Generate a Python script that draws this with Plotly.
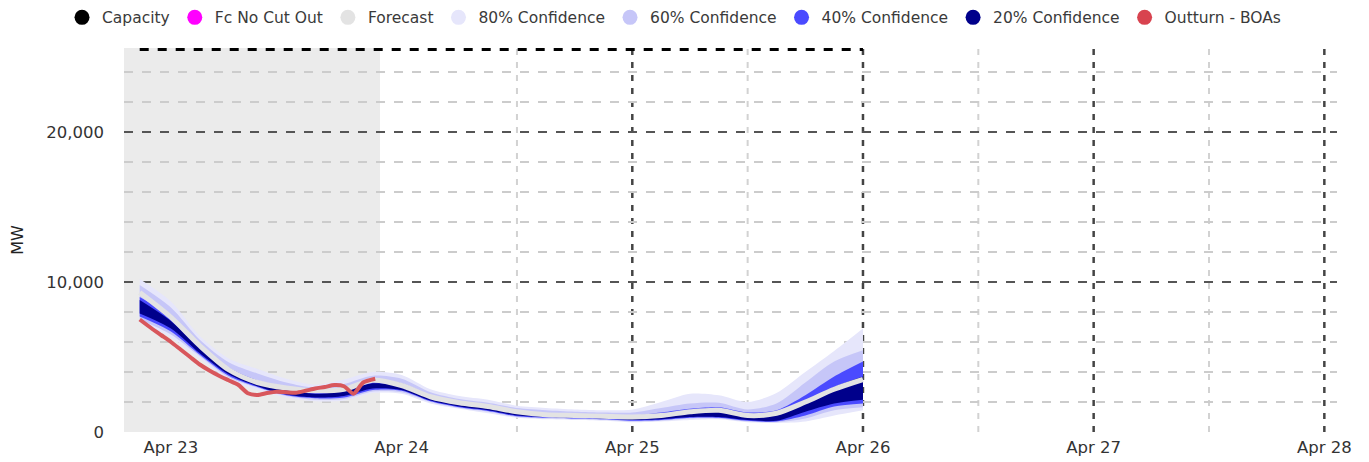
import plotly.graph_objects as go

# ---------------- data ----------------
fc_time = ["2024-04-22 20:45", "2024-04-23 00:00", "2024-04-23 03:00", "2024-04-23 06:00",
           "2024-04-23 09:00", "2024-04-23 12:00", "2024-04-23 15:00", "2024-04-23 18:00",
           "2024-04-23 21:00", "2024-04-24 00:00", "2024-04-24 03:00", "2024-04-24 06:00",
           "2024-04-24 09:00", "2024-04-24 12:00", "2024-04-24 15:00", "2024-04-24 18:00",
           "2024-04-24 21:00", "2024-04-25 00:00", "2024-04-25 03:00", "2024-04-25 06:00",
           "2024-04-25 09:00", "2024-04-25 12:00", "2024-04-25 15:00", "2024-04-25 18:00",
           "2024-04-25 21:00", "2024-04-26 00:00"]
forecast = [9300, 7650, 5750, 4150, 3300, 2930, 2750, 2850, 3450, 3100, 2350, 1950, 1700,
            1350, 1150, 1100, 1050, 1000, 1100, 1350, 1450, 1100, 1250, 2000, 2850, 3500]

c80_lo = [7300, 6300, 4900, 3500, 2800, 2300, 2050, 2100, 2600, 2550, 1900, 1550, 1250,
          950, 850, 800, 750, 650, 700, 800, 850, 650, 600, 700, 1100, 1450]
c80_hi = [10200, 8700, 6400, 4900, 4200, 3550, 3150, 3500, 4000, 3800, 2850, 2400, 2150,
          1750, 1600, 1500, 1450, 1500, 2000, 2550, 2450, 2000, 2600, 4000, 5400, 6900]
c60_lo = [7500, 6500, 5050, 3650, 2950, 2400, 2150, 2200, 2700, 2650, 2000, 1600, 1350,
          1000, 900, 850, 800, 700, 750, 900, 900, 700, 650, 900, 1450, 1650]
c60_hi = [9800, 8300, 6150, 4650, 3900, 3300, 2950, 3200, 3750, 3550, 2650, 2200, 1950,
          1600, 1450, 1350, 1300, 1300, 1600, 1900, 1950, 1500, 1900, 3300, 4700, 5450]
c40_lo = [7700, 6700, 5150, 3750, 3000, 2450, 2250, 2300, 2800, 2750, 2050, 1650, 1400,
          1050, 950, 900, 850, 750, 800, 950, 950, 750, 700, 1100, 1700, 1900]
c40_hi = [9000, 7700, 5800, 4300, 3450, 3000, 2700, 2850, 3400, 3250, 2450, 2050, 1800,
          1400, 1250, 1200, 1150, 1100, 1300, 1550, 1650, 1300, 1450, 2450, 3700, 4700]
c20_lo = [7900, 6900, 5250, 3850, 3050, 2500, 2300, 2400, 2900, 2800, 2100, 1700, 1450,
          1100, 1000, 950, 900, 800, 850, 1000, 1000, 800, 750, 1350, 1900, 2150]
c20_hi = [8800, 7400, 5600, 4100, 3350, 2850, 2550, 2750, 3250, 3050, 2350, 1950, 1700,
          1350, 1150, 1100, 1050, 1000, 1150, 1350, 1400, 1100, 1250, 2000, 3000, 3700]

out_time = ["2024-04-22 20:45", "2024-04-22 22:00", "2024-04-22 23:00", "2024-04-23 00:00",
            "2024-04-23 01:00", "2024-04-23 02:00", "2024-04-23 03:00", "2024-04-23 04:00",
            "2024-04-23 05:00", "2024-04-23 06:00", "2024-04-23 07:00", "2024-04-23 08:00",
            "2024-04-23 09:00", "2024-04-23 10:00", "2024-04-23 11:00", "2024-04-23 12:00",
            "2024-04-23 13:00", "2024-04-23 14:00", "2024-04-23 15:00", "2024-04-23 16:00",
            "2024-04-23 17:00", "2024-04-23 18:00", "2024-04-23 19:00", "2024-04-23 20:00",
            "2024-04-23 21:15"]
outturn = [7500, 6900, 6450, 6000, 5500, 5000, 4500, 4100, 3750, 3450, 3150, 2580, 2470,
           2600, 2690, 2650, 2620, 2750, 2900, 3000, 3130, 3050, 2550, 3300, 3550]

cap_time = ["2024-04-22 20:45", "2024-04-26 00:00"]
capacity = [25500, 25500]

past_end = "2024-04-23 21:45"
x_range = ["2024-04-22 19:07", "2024-04-28 01:19"]
y_range = [0, 25600]
grid_minor_x = ["2024-04-24 12:00", "2024-04-25 12:00", "2024-04-26 12:00", "2024-04-27 12:00"]
grid_major_x = ["2024-04-25 00:00", "2024-04-26 00:00", "2024-04-27 00:00", "2024-04-28 00:00"]

legend_names = ["Capacity", "Fc No Cut Out", "Forecast", "80% Confidence", "60% Confidence",
                "40% Confidence", "20% Confidence", "Outturn - BOAs"]
legend_colors = ["#000000", "#ff00ff", "#e3e3e3", "#e6e6fb", "#c6c6f8", "#4a4aff",
                 "#00008b", "#d8434f"]

FONT = "DejaVu Sans, Verdana, sans-serif"

# ---------------- figure ----------------
fig = go.Figure()

for name, col in zip(legend_names, legend_colors):
    fig.add_trace(go.Scatter(x=[None], y=[None], mode="markers", name=name,
                             marker=dict(color=col, size=15, symbol="circle"),
                             showlegend=True, hoverinfo="skip"))

band_defs = [(c80_lo, c80_hi, "#e6e6fb"), (c60_lo, c60_hi, "#c6c6f8"),
             (c40_lo, c40_hi, "#4a4aff"), (c20_lo, c20_hi, "#00008b")]
for lo, hi, col in band_defs:
    fig.add_trace(go.Scatter(x=fc_time, y=hi, mode="lines",
                             line=dict(width=0, color=col, shape="spline", smoothing=0.8),
                             showlegend=False, hoverinfo="skip"))
    fig.add_trace(go.Scatter(x=fc_time, y=lo, mode="lines", fill="tonexty", fillcolor=col,
                             line=dict(width=0, color=col, shape="spline", smoothing=0.8),
                             showlegend=False, hoverinfo="skip"))

fig.add_trace(go.Scatter(x=fc_time, y=forecast, mode="lines", name="Forecast",
                         line=dict(color="#e3e3e3", width=5, shape="spline", smoothing=0.8),
                         showlegend=False))
fig.add_trace(go.Scatter(x=out_time, y=outturn, mode="lines", name="Outturn - BOAs",
                         line=dict(color="#d8575c", width=4, shape="spline", smoothing=0.6),
                         showlegend=False))
fig.add_trace(go.Scatter(x=cap_time, y=capacity, mode="lines", name="Capacity",
                         line=dict(color="#000000", width=3, dash="dash"),
                         showlegend=False))

shapes = [dict(type="rect", xref="x", yref="paper", x0=x_range[0], x1=past_end, y0=0, y1=1,
               fillcolor="#ebebeb", line=dict(width=0), layer="below")]
for gx in grid_minor_x:
    shapes.append(dict(type="line", xref="x", yref="paper", x0=gx, x1=gx, y0=0, y1=1,
                       line=dict(color="#d2d2d2", width=2, dash="6px,7px"), layer="below"))
for gx in grid_major_x:
    shapes.append(dict(type="line", xref="x", yref="paper", x0=gx, x1=gx, y0=0, y1=1,
                       line=dict(color="#444444", width=2.5, dash="6px,7px"), layer="below"))

fig.update_layout(
    width=1361, height=454,
    margin=dict(l=116, r=32, t=40, b=30, autoexpand=False),
    paper_bgcolor="white", plot_bgcolor="white",
    font=dict(family=FONT, size=16.5, color="#333333"),
    shapes=shapes,
    showlegend=True,
    legend=dict(orientation="h", x=-0.0511, y=1.123, xanchor="left", yanchor="top",
                font=dict(family=FONT, size=15.5, color="#3a3a3a"), itemwidth=30,
                traceorder="normal", bgcolor="rgba(0,0,0,0)", tracegroupgap=0),
    xaxis=dict(type="date", range=x_range, showgrid=False, zeroline=False, automargin=False,
               dtick=86400000, tick0="2024-04-23", tickformat="%b %d",
               ticks="", showline=False, ticklabelstandoff=3),
    yaxis=dict(range=y_range, dtick=10000, tickformat=",", showgrid=True, automargin=False,
               gridcolor="#555555", gridwidth=2, griddash="dash", zeroline=False,
               showline=False, ticks="", ticklabelstandoff=19,
               minor=dict(dtick=2000, showgrid=True, gridcolor="#cccccc",
                          gridwidth=1.5, griddash="dash"),
               title=dict(text="MW", font=dict(family=FONT, size=16, color="#222222"),
                          standoff=25)),
)

fig.write_html("out.html")
